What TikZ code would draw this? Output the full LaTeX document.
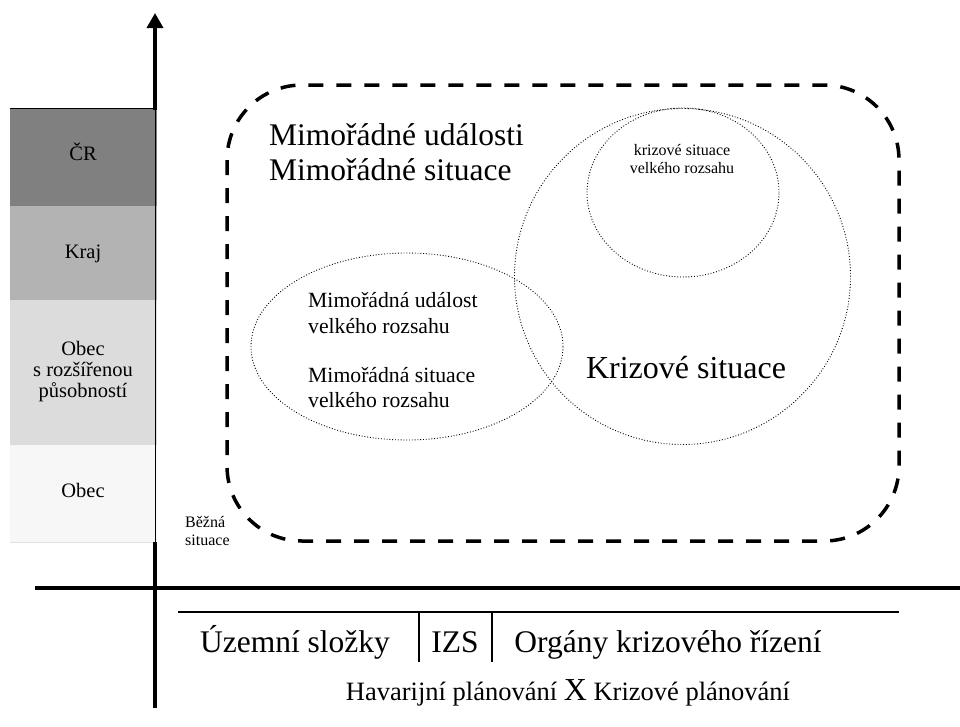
\documentclass[tikz,border=0pt]{standalone}
\usepackage{fontspec}
\setmainfont{Liberation Serif}
\usetikzlibrary{arrows.meta}
\newcommand{\fsz}[1]{\fontsize{#1}{#1}\selectfont}
\definecolor{barA}{HTML}{808080}
\definecolor{barB}{HTML}{B3B3B3}
\definecolor{barC}{HTML}{DCDCDC}
\definecolor{barD}{HTML}{F7F7F7}
\begin{document}
\begin{tikzpicture}[x=1pt,y=-1pt,
  lbl/.style={inner sep=0pt,anchor=base},
  lbll/.style={inner sep=0pt,anchor=base west},
  axisline/.style={line width=3.5pt},
  axisarrow/.style={line width=3.5pt,-{Triangle[width=16pt,length=15pt]}},
  zone/.style={line width=3.5pt,dash pattern=on 15pt off 13pt,rounded corners=75pt},
  setdot/.style={line width=0.9pt,dash pattern=on 0.9pt off 1.9pt},
  rule/.style={line width=1.2pt}]
\useasboundingbox (0,0) rectangle (960,726);
% level bars
\fill[barA] (10,108) rectangle (157,206);
\fill[barB] (10,206) rectangle (157,300);
\fill[barC] (10,300) rectangle (157,445);
\fill[barD] (10,445) rectangle (157,542);
\coordinate (bartl) at (10,108);
\coordinate (bartr) at (156,108);
\coordinate (barbl) at (10,542);
\coordinate (barbr) at (156,542);
\draw[line width=0.8pt] (bartl) -- (bartr);
\draw[line width=0.5pt,black!12] (barbl) -- (barbr);
% axes
\coordinate (ybot) at (155,708);
\coordinate (ylow) at (155,542);
\coordinate (yhigh) at (155,108);
\coordinate (ytop) at (155,13);
\coordinate (xleft) at (35,588);
\coordinate (xright) at (978,588);
\draw[axisline] (ybot) -- (ylow);
\draw[line width=1pt] ([xshift=0.8pt]ylow) -- ([xshift=0.8pt]yhigh);
\draw[axisarrow] ([yshift=-1.75pt]yhigh) -- (ytop);
\draw[axisarrow] (xleft) -- (xright);
% zone
\draw[zone] (227,85) rectangle (899,541);
% sets
\draw[setdot] (682.5,276.5) circle [radius=168pt];
\draw[setdot] (683,192.5) ellipse [x radius=96pt, y radius=84.5pt];
\draw[setdot] (407,346.5) ellipse [x radius=156pt, y radius=93.5pt];
% bottom table
\coordinate (ul) at (178,612);
\coordinate (ur) at (899,612);
\coordinate (s1t) at (419,612);
\coordinate (s1b) at (419,662);
\coordinate (s2t) at (492,612);
\coordinate (s2b) at (492,662);
\draw[rule] (ul) -- (ur);
\draw[rule] (s1t) -- (s1b);
\draw[rule] (s2t) -- (s2b);
% bar labels
\node[lbl,font=\fsz{20.5}] (cr) at (83,160) {ČR};
\node[lbl,font=\fsz{20.5}] (kraj) at (83,258) {Kraj};
\node[lbl,font=\fsz{20.5}] (orp1) at (83,355) {Obec};
\node[lbl,font=\fsz{20.5}] (orp2) at (83,376) {s rozšířenou};
\node[lbl,font=\fsz{20.5}] (orp3) at (83,397) {působností};
\node[lbl,font=\fsz{20.5}] (obec) at (83,497) {Obec};
\node[lbll,font=\fsz{16}] (bez1) at (185,527) {Běžná};
\node[lbll,font=\fsz{16}] (bez2) at (185,545) {situace};
% area labels
\node[lbll,font=\fsz{31.5}] (mu) at (269,145) {Mimořádné události};
\node[lbll,font=\fsz{31.5}] (ms) at (269,180) {Mimořádné situace};
\node[lbl,font=\fsz{16}] (ksv1) at (682,155) {krizové situace};
\node[lbl,font=\fsz{16}] (ksv2) at (682,173) {velkého rozsahu};
\node[lbll,font=\fsz{21.7}] (muv1) at (308,307) {Mimořádná událost};
\node[lbll,font=\fsz{21.7}] (muv2) at (308,333) {velkého rozsahu};
\node[lbll,font=\fsz{21.7}] (msv1) at (308,382) {Mimořádná situace};
\node[lbll,font=\fsz{21.7}] (msv2) at (308,407) {velkého rozsahu};
\node[lbl,font=\fsz{32}] (ks) at (686,378) {Krizové situace};
% bottom labels
\node[lbl,font=\fsz{31.5}] (uz) at (295,652) {Územní složky};
\node[lbl,font=\fsz{31.5}] (izs) at (455,652) {IZS};
\node[lbl,font=\fsz{31.5}] (okr) at (668,652) {Orgány krizového řízení};
\node[lbl,font=\fsz{26.5}] (plan) at (568,700) {Havarijní plánování {\fsz{32}X} Krizové plánování};
\end{tikzpicture}
\end{document}
